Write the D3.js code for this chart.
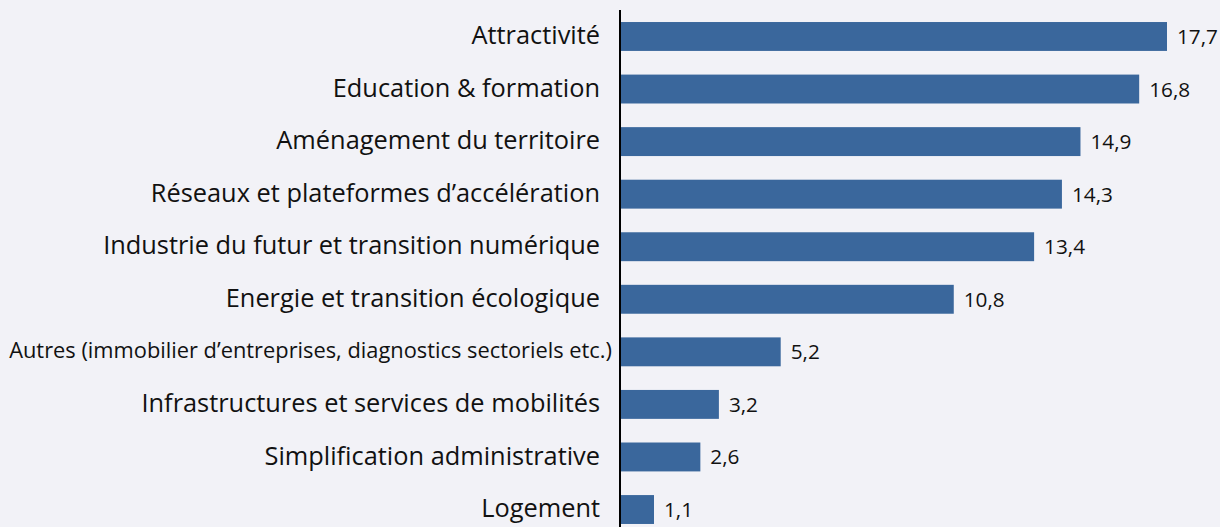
<!DOCTYPE html>
<html><head><meta charset="utf-8">
<script src="https://cdn.jsdelivr.net/npm/d3@7"></script>
<style>html,body{margin:0;padding:0;background:#f2f2f7;}svg{display:block;}</style>
</head><body><svg id="c" width="1220" height="527"></svg>
<script>
const categories = ["Attractivité","Education & formation","Aménagement du territoire","Réseaux et plateformes d’accélération","Industrie du futur et transition numérique","Energie et transition écologique","Autres (immobilier d’entreprises, diagnostics sectoriels etc.)","Infrastructures et services de mobilités","Simplification administrative","Logement"];
const values = [17.7,16.8,14.9,14.3,13.4,10.8,5.2,3.2,2.6,1.1];
const valueLabels = ["17,7","16,8","14,9","14,3","13,4","10,8","5,2","3,2","2,6","1,1"];

const svg = d3.select("#c");
const W = 1220, H = 527;
const FONT = "'Open Sans', Lato, sans-serif";
svg.append("rect").attr("width",W).attr("height",H).attr("fill","#f2f2f7");
const x0 = 620;
const x = d3.scaleLinear().domain([0,17.7]).range([x0,1167]);
const y = d3.scaleBand().domain(categories).range([10.2,535.8]).paddingInner(0.45).paddingOuter(0.225);

function fitSize(str, target, base){
  const t = svg.append("text").attr("font-family",FONT).attr("font-size",base).text(str);
  const w = t.node().getComputedTextLength(); t.remove();
  return base*target/w;
}
const mainSize = fitSize(categories[4], 497, 20);
const autresSize = fitSize(categories[6], 603, 16);
const valSize = fitSize("17,7", 41, 16);

svg.selectAll("rect.bar").data(values).enter().append("rect")
  .attr("class","bar")
  .attr("x",x(0)).attr("y",(d,i)=>y(categories[i]))
  .attr("width",d=>x(d)-x(0)).attr("height",y.bandwidth())
  .attr("fill","#3a679c");

svg.selectAll("text.val").data(values).enter().append("text")
  .attr("x",d=>x(d)+10).attr("y",(d,i)=>y(categories[i])+y.bandwidth()/2+valSize*0.36)
  .attr("font-family",FONT)
  .attr("font-size",valSize).attr("fill","#111")
  .text((d,i)=>valueLabels[i]);

svg.selectAll("text.cat").data(categories).enter().append("text")
  .attr("x",(d,i)=> i===6 ? 612 : 600)
  .attr("y",(d,i)=>y(d)+y.bandwidth()/2+(i===6?autresSize:mainSize)*0.3)
  .attr("text-anchor","end")
  .attr("font-family",FONT)
  .attr("font-size",(d,i)=> i===6 ? autresSize : mainSize).attr("fill","#111")
  .text(d=>d);

svg.append("line").attr("x1",x0).attr("x2",x0).attr("y1",10).attr("y2",H)
  .attr("stroke","#000").attr("stroke-width",2);
</script></body></html>
